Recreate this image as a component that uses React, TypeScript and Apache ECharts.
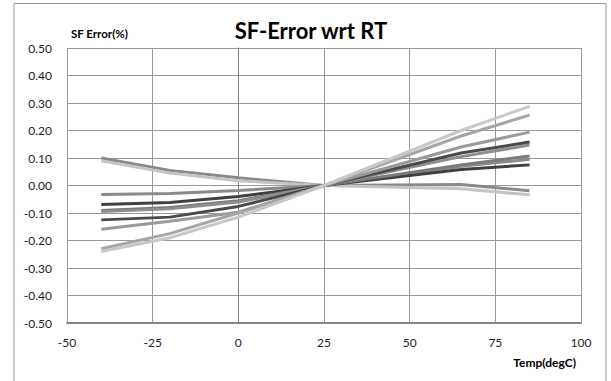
import React, { useEffect, useRef } from "react";
import * as echarts from "echarts";

const temps = [-40, -20, 0, 25, 65, 85];
const s1 = [0.1, 0.055, 0.028, 0, 0.004, -0.019];
const s2 = [0.09, 0.045, 0.017, 0, -0.012, -0.034];
const s3 = [-0.033, -0.029, -0.018, 0, 0.07, 0.095];
const s4 = [-0.069, -0.062, -0.04, 0, 0.058, 0.075];
const s5 = [-0.091, -0.08, -0.055, 0, 0.075, 0.107];
const s6 = [-0.125, -0.115, -0.076, 0, 0.118, 0.158];
const s7 = [-0.095, -0.085, -0.06, 0, 0.105, 0.147];
const s8 = [-0.159, -0.13, -0.097, 0, 0.14, 0.194];
const s9 = [-0.23, -0.175, -0.1, 0, 0.18, 0.256];
const s10 = [-0.24, -0.19, -0.115, 0, 0.2, 0.288];

const seriesList = [
  { name: "S1", values: s1, color: "#8a8a8a" },
  { name: "S2", values: s2, color: "#c4c4c4" },
  { name: "S3", values: s3, color: "#8a8a8a" },
  { name: "S4", values: s4, color: "#404040" },
  { name: "S5", values: s5, color: "#7a7a7a" },
  { name: "S7", values: s7, color: "#8e8e8e" },
  { name: "S6", values: s6, color: "#4a4a4a" },
  { name: "S8", values: s8, color: "#9a9a9a" },
  { name: "S9", values: s9, color: "#a6a6a6" },
  { name: "S10", values: s10, color: "#c8c8c8" },
];

const FONT = "Lato, 'Open Sans', sans-serif";

export default function App() {
  const ref = useRef<HTMLDivElement>(null);
  useEffect(() => {
    if (!ref.current) return;
    const chart = echarts.init(ref.current, undefined, { renderer: "svg" });
    chart.setOption({
      animation: false,
      backgroundColor: "#ffffff",
      grid: { left: 67, top: 48, right: 30, bottom: 58, containLabel: false },
      xAxis: {
        type: "value",
        min: -50,
        max: 100,
        interval: 25,
        axisLine: { onZero: false, lineStyle: { color: "#868686", width: 2 } },
        axisTick: { show: false },
        axisLabel: { color: "#222", fontSize: 12, fontFamily: FONT, margin: 13 },
        splitLine: { show: true, lineStyle: { color: "#999999", width: 1 } },
      },
      yAxis: {
        type: "value",
        min: -0.5,
        max: 0.5,
        interval: 0.1,
        axisLine: { show: true, lineStyle: { color: "#868686", width: 1 } },
        axisTick: { show: false },
        axisLabel: {
          color: "#222",
          fontSize: 12,
          fontFamily: FONT,
          margin: 15,
          formatter: (v: number) => v.toFixed(2),
        },
        splitLine: { show: true, lineStyle: { color: "#999999", width: 1 } },
      },
      graphic: [
        {
          type: "rect",
          shape: { x: 14, y: 3.5, width: 592, height: 420 },
          style: { fill: "none", stroke: "#999999", lineWidth: 1 },
          silent: true,
        },
        {
          type: "text",
          x: 311,
          y: 30,
          style: {
            text: "SF-Error wrt RT",
            fontFamily: FONT,
            fontWeight: "bold",
            fontSize: 22,
            fill: "#000",
            align: "center",
            verticalAlign: "middle",
          },
        },
        {
          type: "text",
          x: 71,
          y: 33,
          style: {
            text: "SF Error(%)",
            fontFamily: FONT,
            fontWeight: "bold",
            fontSize: 11.5,
            fill: "#000",
            align: "left",
            verticalAlign: "middle",
          },
        },
        {
          type: "text",
          x: 576,
          y: 362,
          style: {
            text: "Temp(degC)",
            fontFamily: FONT,
            fontWeight: "bold",
            fontSize: 12,
            fill: "#000",
            align: "right",
            verticalAlign: "middle",
          },
        },
      ],
      series: seriesList.map((s) => ({
        name: s.name,
        type: "line",
        data: temps.map((t, i) => [t, s.values[i]]),
        showSymbol: false,
        symbol: "none",
        lineStyle: { color: s.color, width: 3 },
        itemStyle: { color: s.color },
      })),
    });
    return () => chart.dispose();
  }, []);
  return (
    <div
      ref={ref}
      style={{ position: "fixed", left: 0, top: 0, width: 611, height: 381 }}
    />
  );
}
